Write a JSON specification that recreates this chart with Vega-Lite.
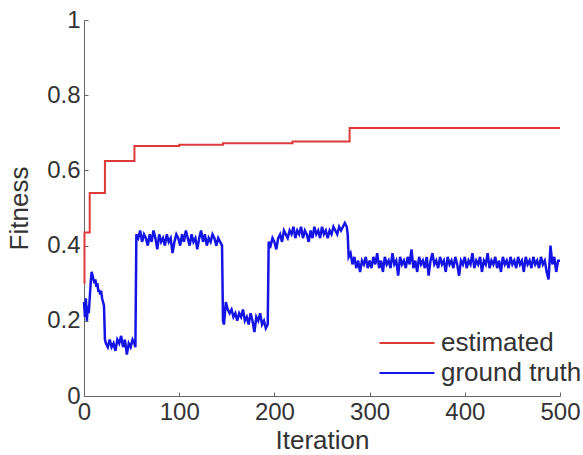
{
  "$schema": "https://vega.github.io/schema/vega-lite/v6.json",
  "width": 476,
  "height": 376,
  "autosize": {"type": "none"},
  "padding": {"left": 84, "top": 20, "right": 23, "bottom": 59},
  "background": "white",
  "config": {
    "view": {"stroke": null},
    "font": "Liberation Sans",
    "axis": {
      "grid": false,
      "domainColor": "#666",
      "tickColor": "#666",
      "labelColor": "#333",
      "titleColor": "#333",
      "labelFontSize": 24,
      "titleFontSize": 26,
      "titleFontWeight": "normal",
      "tickSize": -4,
      "labelPadding": 8,
      "labelFlush": false,
      "labelOverlap": false
    },
    "legend": {
      "labelFontSize": 26,
      "labelColor": "#333"
    }
  },
  "datasets": {
    "red": [
      {"iter": 0, "fitness": 0.30, "series": "estimated"},
      {"iter": 0.5, "fitness": 0.435, "series": "estimated"},
      {"iter": 6, "fitness": 0.54, "series": "estimated"},
      {"iter": 22, "fitness": 0.625, "series": "estimated"},
      {"iter": 53, "fitness": 0.665, "series": "estimated"},
      {"iter": 100, "fitness": 0.668, "series": "estimated"},
      {"iter": 146, "fitness": 0.672, "series": "estimated"},
      {"iter": 219, "fitness": 0.677, "series": "estimated"},
      {"iter": 279, "fitness": 0.713, "series": "estimated"},
      {"iter": 500, "fitness": 0.713, "series": "estimated"}
    ],
    "blue": [
      {"iter": 0, "fitness": 0.25}, {"iter": 1, "fitness": 0.21}, {"iter": 2, "fitness": 0.26}, {"iter": 3, "fitness": 0.20},
      {"iter": 4, "fitness": 0.24}, {"iter": 5, "fitness": 0.22}, {"iter": 6, "fitness": 0.26}, {"iter": 7, "fitness": 0.30},
      {"iter": 8, "fitness": 0.33}, {"iter": 9, "fitness": 0.32}, {"iter": 10, "fitness": 0.31}, {"iter": 11, "fitness": 0.30},
      {"iter": 12, "fitness": 0.31}, {"iter": 13, "fitness": 0.29}, {"iter": 14, "fitness": 0.30}, {"iter": 15, "fitness": 0.28},
      {"iter": 16, "fitness": 0.28}, {"iter": 17, "fitness": 0.27}, {"iter": 18, "fitness": 0.28}, {"iter": 19, "fitness": 0.26},
      {"iter": 20, "fitness": 0.25}, {"iter": 21, "fitness": 0.24}, {"iter": 22, "fitness": 0.15},
      {"iter": 23, "fitness": 0.14}, {"iter": 25, "fitness": 0.13}, {"iter": 27, "fitness": 0.15}, {"iter": 29, "fitness": 0.13},
      {"iter": 31, "fitness": 0.14}, {"iter": 33, "fitness": 0.12}, {"iter": 35, "fitness": 0.15}, {"iter": 37, "fitness": 0.14},
      {"iter": 39, "fitness": 0.16}, {"iter": 41, "fitness": 0.13}, {"iter": 43, "fitness": 0.15}, {"iter": 45, "fitness": 0.11},
      {"iter": 47, "fitness": 0.14}, {"iter": 49, "fitness": 0.13}, {"iter": 51, "fitness": 0.15}, {"iter": 53, "fitness": 0.14},
      {"iter": 54, "fitness": 0.13},
      {"iter": 55, "fitness": 0.43}, {"iter": 57, "fitness": 0.42}, {"iter": 59, "fitness": 0.44}, {"iter": 61, "fitness": 0.41},
      {"iter": 63, "fitness": 0.43}, {"iter": 65, "fitness": 0.42}, {"iter": 67, "fitness": 0.40}, {"iter": 69, "fitness": 0.43},
      {"iter": 71, "fitness": 0.41}, {"iter": 73, "fitness": 0.44}, {"iter": 75, "fitness": 0.42}, {"iter": 77, "fitness": 0.39},
      {"iter": 79, "fitness": 0.43}, {"iter": 81, "fitness": 0.41}, {"iter": 83, "fitness": 0.42}, {"iter": 85, "fitness": 0.40},
      {"iter": 87, "fitness": 0.43}, {"iter": 89, "fitness": 0.41}, {"iter": 91, "fitness": 0.42}, {"iter": 93, "fitness": 0.38},
      {"iter": 95, "fitness": 0.41}, {"iter": 97, "fitness": 0.43}, {"iter": 99, "fitness": 0.42}, {"iter": 101, "fitness": 0.40},
      {"iter": 103, "fitness": 0.43}, {"iter": 105, "fitness": 0.41}, {"iter": 107, "fitness": 0.44}, {"iter": 109, "fitness": 0.42},
      {"iter": 111, "fitness": 0.40}, {"iter": 113, "fitness": 0.43}, {"iter": 115, "fitness": 0.41}, {"iter": 117, "fitness": 0.42},
      {"iter": 119, "fitness": 0.39}, {"iter": 121, "fitness": 0.42}, {"iter": 123, "fitness": 0.44}, {"iter": 125, "fitness": 0.41},
      {"iter": 127, "fitness": 0.43}, {"iter": 129, "fitness": 0.40}, {"iter": 131, "fitness": 0.42}, {"iter": 133, "fitness": 0.41},
      {"iter": 135, "fitness": 0.43}, {"iter": 137, "fitness": 0.42}, {"iter": 139, "fitness": 0.40}, {"iter": 141, "fitness": 0.42},
      {"iter": 143, "fitness": 0.41}, {"iter": 145, "fitness": 0.40},
      {"iter": 146, "fitness": 0.20}, {"iter": 147, "fitness": 0.19}, {"iter": 149, "fitness": 0.25}, {"iter": 151, "fitness": 0.23},
      {"iter": 153, "fitness": 0.22}, {"iter": 155, "fitness": 0.23}, {"iter": 157, "fitness": 0.21}, {"iter": 159, "fitness": 0.22},
      {"iter": 161, "fitness": 0.20}, {"iter": 163, "fitness": 0.22}, {"iter": 165, "fitness": 0.21}, {"iter": 167, "fitness": 0.23},
      {"iter": 169, "fitness": 0.20}, {"iter": 171, "fitness": 0.21}, {"iter": 173, "fitness": 0.19}, {"iter": 175, "fitness": 0.22},
      {"iter": 177, "fitness": 0.20}, {"iter": 179, "fitness": 0.17}, {"iter": 181, "fitness": 0.21}, {"iter": 183, "fitness": 0.20},
      {"iter": 185, "fitness": 0.22}, {"iter": 187, "fitness": 0.19}, {"iter": 189, "fitness": 0.20}, {"iter": 191, "fitness": 0.18},
      {"iter": 193, "fitness": 0.19},
      {"iter": 194, "fitness": 0.41}, {"iter": 196, "fitness": 0.40}, {"iter": 198, "fitness": 0.42}, {"iter": 200, "fitness": 0.41},
      {"iter": 202, "fitness": 0.39}, {"iter": 204, "fitness": 0.42}, {"iter": 206, "fitness": 0.43}, {"iter": 208, "fitness": 0.41},
      {"iter": 210, "fitness": 0.44}, {"iter": 212, "fitness": 0.43}, {"iter": 214, "fitness": 0.42}, {"iter": 216, "fitness": 0.44},
      {"iter": 218, "fitness": 0.43}, {"iter": 220, "fitness": 0.45}, {"iter": 222, "fitness": 0.42}, {"iter": 224, "fitness": 0.44},
      {"iter": 226, "fitness": 0.43}, {"iter": 228, "fitness": 0.45}, {"iter": 230, "fitness": 0.42}, {"iter": 232, "fitness": 0.44},
      {"iter": 234, "fitness": 0.43}, {"iter": 236, "fitness": 0.41}, {"iter": 238, "fitness": 0.44}, {"iter": 240, "fitness": 0.42},
      {"iter": 242, "fitness": 0.45}, {"iter": 244, "fitness": 0.43}, {"iter": 246, "fitness": 0.44}, {"iter": 248, "fitness": 0.42},
      {"iter": 250, "fitness": 0.45}, {"iter": 252, "fitness": 0.43}, {"iter": 254, "fitness": 0.44}, {"iter": 256, "fitness": 0.42},
      {"iter": 258, "fitness": 0.44}, {"iter": 260, "fitness": 0.43}, {"iter": 262, "fitness": 0.45}, {"iter": 264, "fitness": 0.44},
      {"iter": 266, "fitness": 0.43}, {"iter": 268, "fitness": 0.45}, {"iter": 270, "fitness": 0.44}, {"iter": 272, "fitness": 0.45},
      {"iter": 274, "fitness": 0.46}, {"iter": 276, "fitness": 0.45}, {"iter": 277, "fitness": 0.43},
      {"iter": 278, "fitness": 0.37}, {"iter": 280, "fitness": 0.38}, {"iter": 282, "fitness": 0.35}, {"iter": 284, "fitness": 0.37},
      {"iter": 286, "fitness": 0.34}, {"iter": 288, "fitness": 0.36}, {"iter": 290, "fitness": 0.33}, {"iter": 292, "fitness": 0.36},
      {"iter": 294, "fitness": 0.35}, {"iter": 296, "fitness": 0.37}, {"iter": 298, "fitness": 0.34},
      {"iter": 300, "fitness": 0.36}, {"iter": 302, "fitness": 0.34}, {"iter": 304, "fitness": 0.37}, {"iter": 306, "fitness": 0.35},
      {"iter": 308, "fitness": 0.38}, {"iter": 310, "fitness": 0.34}, {"iter": 312, "fitness": 0.36}, {"iter": 314, "fitness": 0.33},
      {"iter": 316, "fitness": 0.37}, {"iter": 318, "fitness": 0.35}, {"iter": 320, "fitness": 0.36}, {"iter": 322, "fitness": 0.34},
      {"iter": 324, "fitness": 0.38}, {"iter": 326, "fitness": 0.35}, {"iter": 328, "fitness": 0.36}, {"iter": 330, "fitness": 0.32},
      {"iter": 332, "fitness": 0.37}, {"iter": 334, "fitness": 0.35}, {"iter": 336, "fitness": 0.36}, {"iter": 338, "fitness": 0.34},
      {"iter": 340, "fitness": 0.37}, {"iter": 342, "fitness": 0.35}, {"iter": 344, "fitness": 0.39}, {"iter": 346, "fitness": 0.34},
      {"iter": 348, "fitness": 0.36}, {"iter": 350, "fitness": 0.33}, {"iter": 352, "fitness": 0.37}, {"iter": 354, "fitness": 0.35},
      {"iter": 356, "fitness": 0.36}, {"iter": 358, "fitness": 0.34}, {"iter": 360, "fitness": 0.37}, {"iter": 362, "fitness": 0.32},
      {"iter": 364, "fitness": 0.36}, {"iter": 366, "fitness": 0.38}, {"iter": 368, "fitness": 0.35}, {"iter": 370, "fitness": 0.36},
      {"iter": 372, "fitness": 0.34}, {"iter": 374, "fitness": 0.37}, {"iter": 376, "fitness": 0.35}, {"iter": 378, "fitness": 0.36},
      {"iter": 380, "fitness": 0.33}, {"iter": 382, "fitness": 0.37}, {"iter": 384, "fitness": 0.35}, {"iter": 386, "fitness": 0.36},
      {"iter": 388, "fitness": 0.34}, {"iter": 390, "fitness": 0.37}, {"iter": 392, "fitness": 0.35}, {"iter": 394, "fitness": 0.32},
      {"iter": 396, "fitness": 0.36}, {"iter": 398, "fitness": 0.35}, {"iter": 400, "fitness": 0.37}, {"iter": 402, "fitness": 0.34},
      {"iter": 404, "fitness": 0.36}, {"iter": 406, "fitness": 0.35}, {"iter": 408, "fitness": 0.38}, {"iter": 410, "fitness": 0.34},
      {"iter": 412, "fitness": 0.36}, {"iter": 414, "fitness": 0.35}, {"iter": 416, "fitness": 0.37}, {"iter": 418, "fitness": 0.33},
      {"iter": 420, "fitness": 0.36}, {"iter": 422, "fitness": 0.35}, {"iter": 424, "fitness": 0.38}, {"iter": 426, "fitness": 0.34},
      {"iter": 428, "fitness": 0.36}, {"iter": 430, "fitness": 0.35}, {"iter": 432, "fitness": 0.37}, {"iter": 434, "fitness": 0.34},
      {"iter": 436, "fitness": 0.36}, {"iter": 438, "fitness": 0.33}, {"iter": 440, "fitness": 0.37}, {"iter": 442, "fitness": 0.35},
      {"iter": 444, "fitness": 0.36}, {"iter": 446, "fitness": 0.34}, {"iter": 448, "fitness": 0.37}, {"iter": 450, "fitness": 0.35},
      {"iter": 452, "fitness": 0.36}, {"iter": 454, "fitness": 0.34}, {"iter": 456, "fitness": 0.37}, {"iter": 458, "fitness": 0.35},
      {"iter": 460, "fitness": 0.36}, {"iter": 462, "fitness": 0.33}, {"iter": 464, "fitness": 0.37}, {"iter": 466, "fitness": 0.35},
      {"iter": 468, "fitness": 0.36}, {"iter": 470, "fitness": 0.34}, {"iter": 472, "fitness": 0.37}, {"iter": 474, "fitness": 0.35},
      {"iter": 476, "fitness": 0.36}, {"iter": 478, "fitness": 0.34}, {"iter": 480, "fitness": 0.37}, {"iter": 482, "fitness": 0.35},
      {"iter": 484, "fitness": 0.36}, {"iter": 486, "fitness": 0.33}, {"iter": 488, "fitness": 0.31}, {"iter": 490, "fitness": 0.40},
      {"iter": 492, "fitness": 0.35}, {"iter": 494, "fitness": 0.37}, {"iter": 496, "fitness": 0.33}, {"iter": 498, "fitness": 0.36},
      {"iter": 500, "fitness": 0.36}
    ]
  },
  "encoding": {
    "x": {
      "field": "iter", "type": "quantitative",
      "scale": {"domain": [0, 500], "nice": false},
      "axis": {"values": [0, 100, 200, 300, 400, 500], "format": "d", "title": "Iteration", "titleBaseline": "alphabetic", "titleY": 52, "titlePadding": 0}
    },
    "y": {
      "field": "fitness", "type": "quantitative",
      "scale": {"domain": [0, 1], "nice": false},
      "axis": {"values": [0, 0.2, 0.4, 0.6, 0.8, 1], "format": "~g", "title": "Fitness", "titleX": -52, "titleY": 188}
    },
    "color": {
      "field": "series", "type": "nominal",
      "scale": {"domain": ["estimated", "ground truth"], "range": ["#dd3a3a", "#1414e6"]},
      "legend": {
        "title": null, "orient": "none", "legendX": 308, "legendY": 308, "padding": 0,
        "symbolType": "M-2,0H2", "symbolSize": 756, "symbolStrokeWidth": 2, "labelOffset": 19, "rowPadding": 2
      }
    }
  },
  "layer": [
    {
      "data": {"name": "red"},
      "mark": {"type": "line", "interpolate": "step-after", "strokeWidth": 2}
    },
    {
      "data": {"name": "blue"},
      "transform": [{"calculate": "'ground truth'", "as": "series"}],
      "mark": {"type": "line", "strokeWidth": 2.5}
    }
  ]
}
